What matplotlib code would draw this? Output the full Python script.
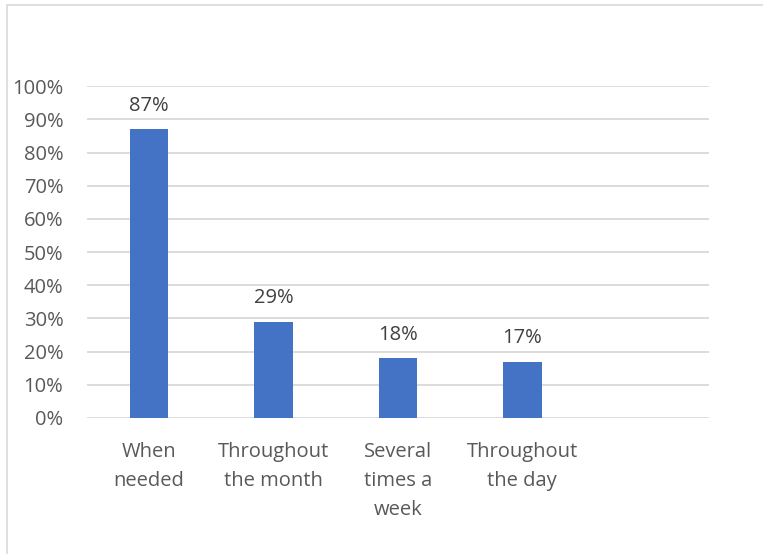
import matplotlib
matplotlib.use("Agg")
import matplotlib.pyplot as plt
from matplotlib.patches import Rectangle
from matplotlib.ticker import PercentFormatter

categories = ["When\nneeded", "Throughout\nthe month", "Several\ntimes a\nweek", "Throughout\nthe day"]
shares = [87, 29, 18, 17]
y_ticks = [0, 10, 20, 30, 40, 50, 60, 70, 80, 90, 100]

bar_color = "#4472C4"
text_color = "#595959"
grid_color = "#D9D9D9"

plt.rcParams['font.family'] = ['Open Sans', 'DejaVu Sans']

fig = plt.figure(figsize=(7.63, 5.54), dpi=100)
ax = fig.add_axes([0.114, 0.2455, 0.815, 0.599])

x = list(range(len(categories)))
bars = ax.bar(x, shares, width=0.31, color=bar_color, zorder=3)

for rect, v in zip(bars, shares):
    ax.annotate(f"{v}%", (rect.get_x() + rect.get_width() / 2, v),
                xytext=(0, 17), textcoords="offset points",
                ha="center", va="center", fontsize=14.5, color="#404040")

# one empty slot on the right, like the spreadsheet default
ax.set_xlim(-0.5, len(categories) + 0.5)
ax.set_ylim(0, 100)
ax.set_yticks(y_ticks)
ax.yaxis.set_major_formatter(PercentFormatter(decimals=0))
ax.set_xticks(x)
ax.set_xticklabels(categories, linespacing=1.6)

ax.tick_params(axis="both", length=0, labelsize=14.5, colors=text_color)
ax.tick_params(axis="x", pad=17)
ax.tick_params(axis="y", pad=17)

ax.grid(axis="y", color=grid_color, linewidth=1.3, zorder=0)
for s in ax.spines.values():
    s.set_visible(False)

# chart frame, clipped at the right and bottom edges
fig.patches.append(Rectangle((7 / 763, -0.1), 1.2, 1 - 4.5 / 554 + 0.1,
                             transform=fig.transFigure, fill=False,
                             edgecolor=grid_color, linewidth=1.2))

fig.savefig("out.png", dpi=100)
